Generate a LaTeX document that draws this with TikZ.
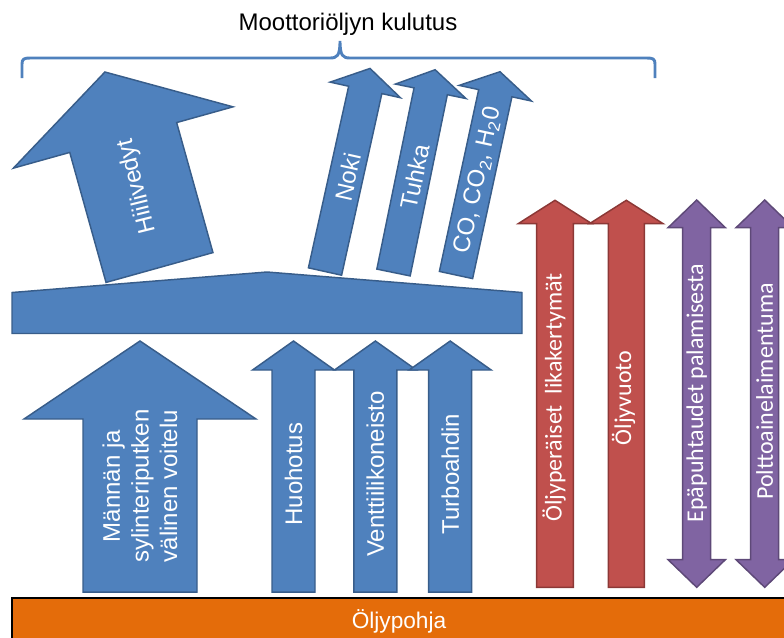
\documentclass[tikz,border=0pt]{standalone}
\usepackage{fontspec}
\setmainfont{Liberation Sans}
\newfontfamily\calibri{Carlito}

\definecolor{oilblue}{RGB}{79,129,189}
\definecolor{oilblueline}{RGB}{56,93,138}
\definecolor{oilred}{RGB}{192,80,77}
\definecolor{oilredline}{RGB}{140,56,54}
\definecolor{oilpurple}{RGB}{128,100,162}
\definecolor{oilpurpleline}{RGB}{94,73,120}
\definecolor{oilorange}{RGB}{228,108,10}

\tikzset{
  blue arrow/.style={fill=oilblue, draw=oilblueline, line width=1.1pt},
  red arrow/.style={fill=oilred, draw=oilredline, line width=1.1pt},
  purple arrow/.style={fill=oilpurple, draw=oilpurpleline, line width=1.1pt},
  brace line/.style={draw=oilblue, line width=2.2pt},
  arrow text/.style={text=white, inner sep=0pt, align=center, font=\fontsize{18}{21.5}\selectfont},
  side text/.style={arrow text, font=\calibri\fontsize{18}{21.5}\selectfont},
  title text/.style={text=black, inner sep=0pt, font=\fontsize{18}{21.5}\selectfont},
}

% block arrow: style, base, tilt, length, half shaft, half head, head length
\newcommand{\blockarrow}[7]{%
  \begin{scope}[shift={#2}, rotate=#3]
    \draw[#1] (-#5,0) -- (-#5,-#4+#7) -- (-#6,-#4+#7) -- (0,-#4)
      -- (#6,-#4+#7) -- (#5,-#4+#7) -- (#5,0) -- cycle;
  \end{scope}}

% two-way arrow: style, centre x, top y, bottom y, half shaft, half head, head length
\newcommand{\twowayarrow}[7]{%
  \draw[#1] (#2-#5,#3+#7) -- (#2-#6,#3+#7) -- (#2,#3) -- (#2+#6,#3+#7)
    -- (#2+#5,#3+#7) -- (#2+#5,#4-#7) -- (#2+#6,#4-#7) -- (#2,#4)
    -- (#2-#6,#4-#7) -- (#2-#5,#4-#7) -- cycle;}

\begin{document}
\begin{tikzpicture}[x=0.75pt, y=-0.75pt]
    \useasboundingbox (0,0) rectangle (784,637);

    % Title and brace
    \node [title text] (title) at (348,24) {Moottoriöljyn kulutus};
    \draw [brace line] (22,78) -- (22,64) .. controls (22,59) and (24,58) .. (30,58)
        -- (330,58) .. controls (337,58) and (340,56) .. (340,41)
        .. controls (340,56) and (343,58) .. (350,58)
        -- (647,58) .. controls (653,58) and (655,59) .. (655,64) -- (655,78);

    % Tilted arrows
    \blockarrow{blue arrow}{(159.5,267.5)}{15.6}{203}{55.5}{114}{68}
    \blockarrow{blue arrow}{(325,271.5)}{-12.5}{208}{17}{36}{22}
    \blockarrow{blue arrow}{(393.5,272.5)}{-11.6}{207}{17}{36}{22}
    \blockarrow{blue arrow}{(456,275)}{-12.2}{208}{17}{37}{22}
    \node [arrow text, rotate=104] (hiilivedyt) at (137.5,186) {Hiilivedyt};
    \node [arrow text, rotate=77.5] (noki)       at (348,177)   {Noki};
    \node [arrow text, rotate=78.4] (tuhka)      at (415,177)   {Tuhka};
    \node [arrow text, rotate=77.8] (kaasut)     at (478,180)   {CO, CO\textsubscript{2}, H\textsubscript{2}0};

    % Platform
    \draw [blue arrow] (12,292.5) -- (267,272) -- (522,292.5) -- (522,333.5) -- (12,333.5) -- cycle;

    % Arrows from the oil pan
    \blockarrow{blue arrow}{(140,592)}{0}{251}{57}{116}{78}
    \blockarrow{blue arrow}{(293.5,592)}{0}{251}{21.5}{41}{29}
    \blockarrow{blue arrow}{(375.4,592)}{0}{251}{21.5}{41}{29}
    \blockarrow{blue arrow}{(450.2,592)}{0}{251}{21.5}{41}{29}
    \node [arrow text, rotate=90] (voitelu)   at (140,486)   {Männän ja\\sylinteriputken\\välinen voitelu};
    \node [arrow text, rotate=90] (huohotus)  at (293.5,474) {Huohotus};
    \node [arrow text, rotate=90] (venttiili) at (375.4,474) {Venttiilikoneisto};
    \node [arrow text, rotate=90] (turbo)     at (450.2,474) {Turboahdin};

    % Side arrows
    \blockarrow{red arrow}{(555,587.3)}{0}{387}{18.3}{36.7}{23.3}
    \blockarrow{red arrow}{(626.3,587.3)}{0}{387}{18}{36.7}{23.3}
    \twowayarrow{purple arrow}{696.7}{200}{587.3}{14}{28.7}{27.7}
    \twowayarrow{purple arrow}{764.7}{200}{587.3}{14}{28.7}{27.7}
    \node [side text, rotate=90] (likakertymat) at (554,397.5)   {Öljyperäiset~ likakertymät};
    \node [side text, rotate=90] (oljyvuoto)    at (623.5,398)   {Öljyvuoto};
    \node [side text, rotate=90] (epapuhtaudet) at (696.7,393)   {Epäpuhtaudet palamisesta};
    \node [side text, rotate=90] (polttoaine)   at (764.7,391.5) {Polttoainelaimentuma};

    % Oil pan
    \draw [fill=oilorange, draw=black, line width=2pt] (12,598) rectangle (800,660);
    \node [arrow text, font=\fontsize{17}{20}\selectfont] (pohja) at (399,621) {Öljypohja};
\end{tikzpicture}
\end{document}
